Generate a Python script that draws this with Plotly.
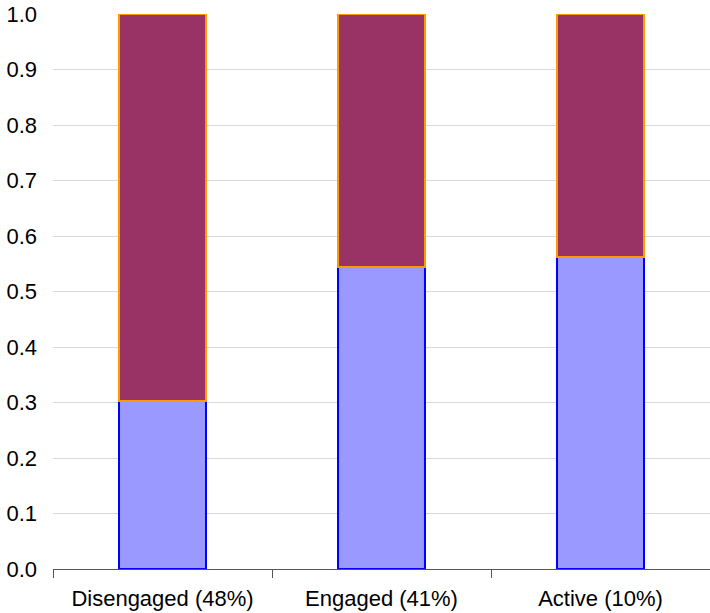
import plotly.graph_objects as go

categories = ["Disengaged (48%)", "Engaged (41%)", "Active (10%)"]
lower_values = [0.303, 0.544, 0.562]
upper_values = [1 - v for v in lower_values]
y_ticks = [0.0, 0.1, 0.2, 0.3, 0.4, 0.5, 0.6, 0.7, 0.8, 0.9, 1.0]

fig = go.Figure()
fig.add_trace(go.Bar(
    x=categories, y=lower_values, width=0.4,
    marker=dict(color="#9999FF", line=dict(color="#0000FF", width=2)),
    name="lower",
))
fig.add_trace(go.Bar(
    x=categories, y=upper_values, width=0.4,
    marker=dict(color="#993366", line=dict(color="#FF9900", width=2)),
    name="upper",
))

fig.update_layout(
    barmode="stack",
    width=710, height=613,
    margin=dict(l=53, r=0, t=14, b=44),
    plot_bgcolor="white", paper_bgcolor="white",
    showlegend=False,
    font=dict(family="Liberation Sans, Arial, sans-serif", size=22, color="#000000"),
)
fig.update_xaxes(
    range=[-0.5, 2.5],
    showline=True, linecolor="#555555", linewidth=1,
    ticks="outside", tickson="boundaries", ticklen=8, tickcolor="#555555",
    showgrid=False, ticklabelstandoff=10,
)
fig.update_yaxes(
    range=[0, 1.0], tickvals=y_ticks, ticktext=[f"{v:.1f}" for v in y_ticks],
    showgrid=True, gridcolor="#D9D9D9", gridwidth=1,
    zeroline=False, showline=False, ticks="", ticklabelstandoff=15,
)
fig.write_html("out.html")
